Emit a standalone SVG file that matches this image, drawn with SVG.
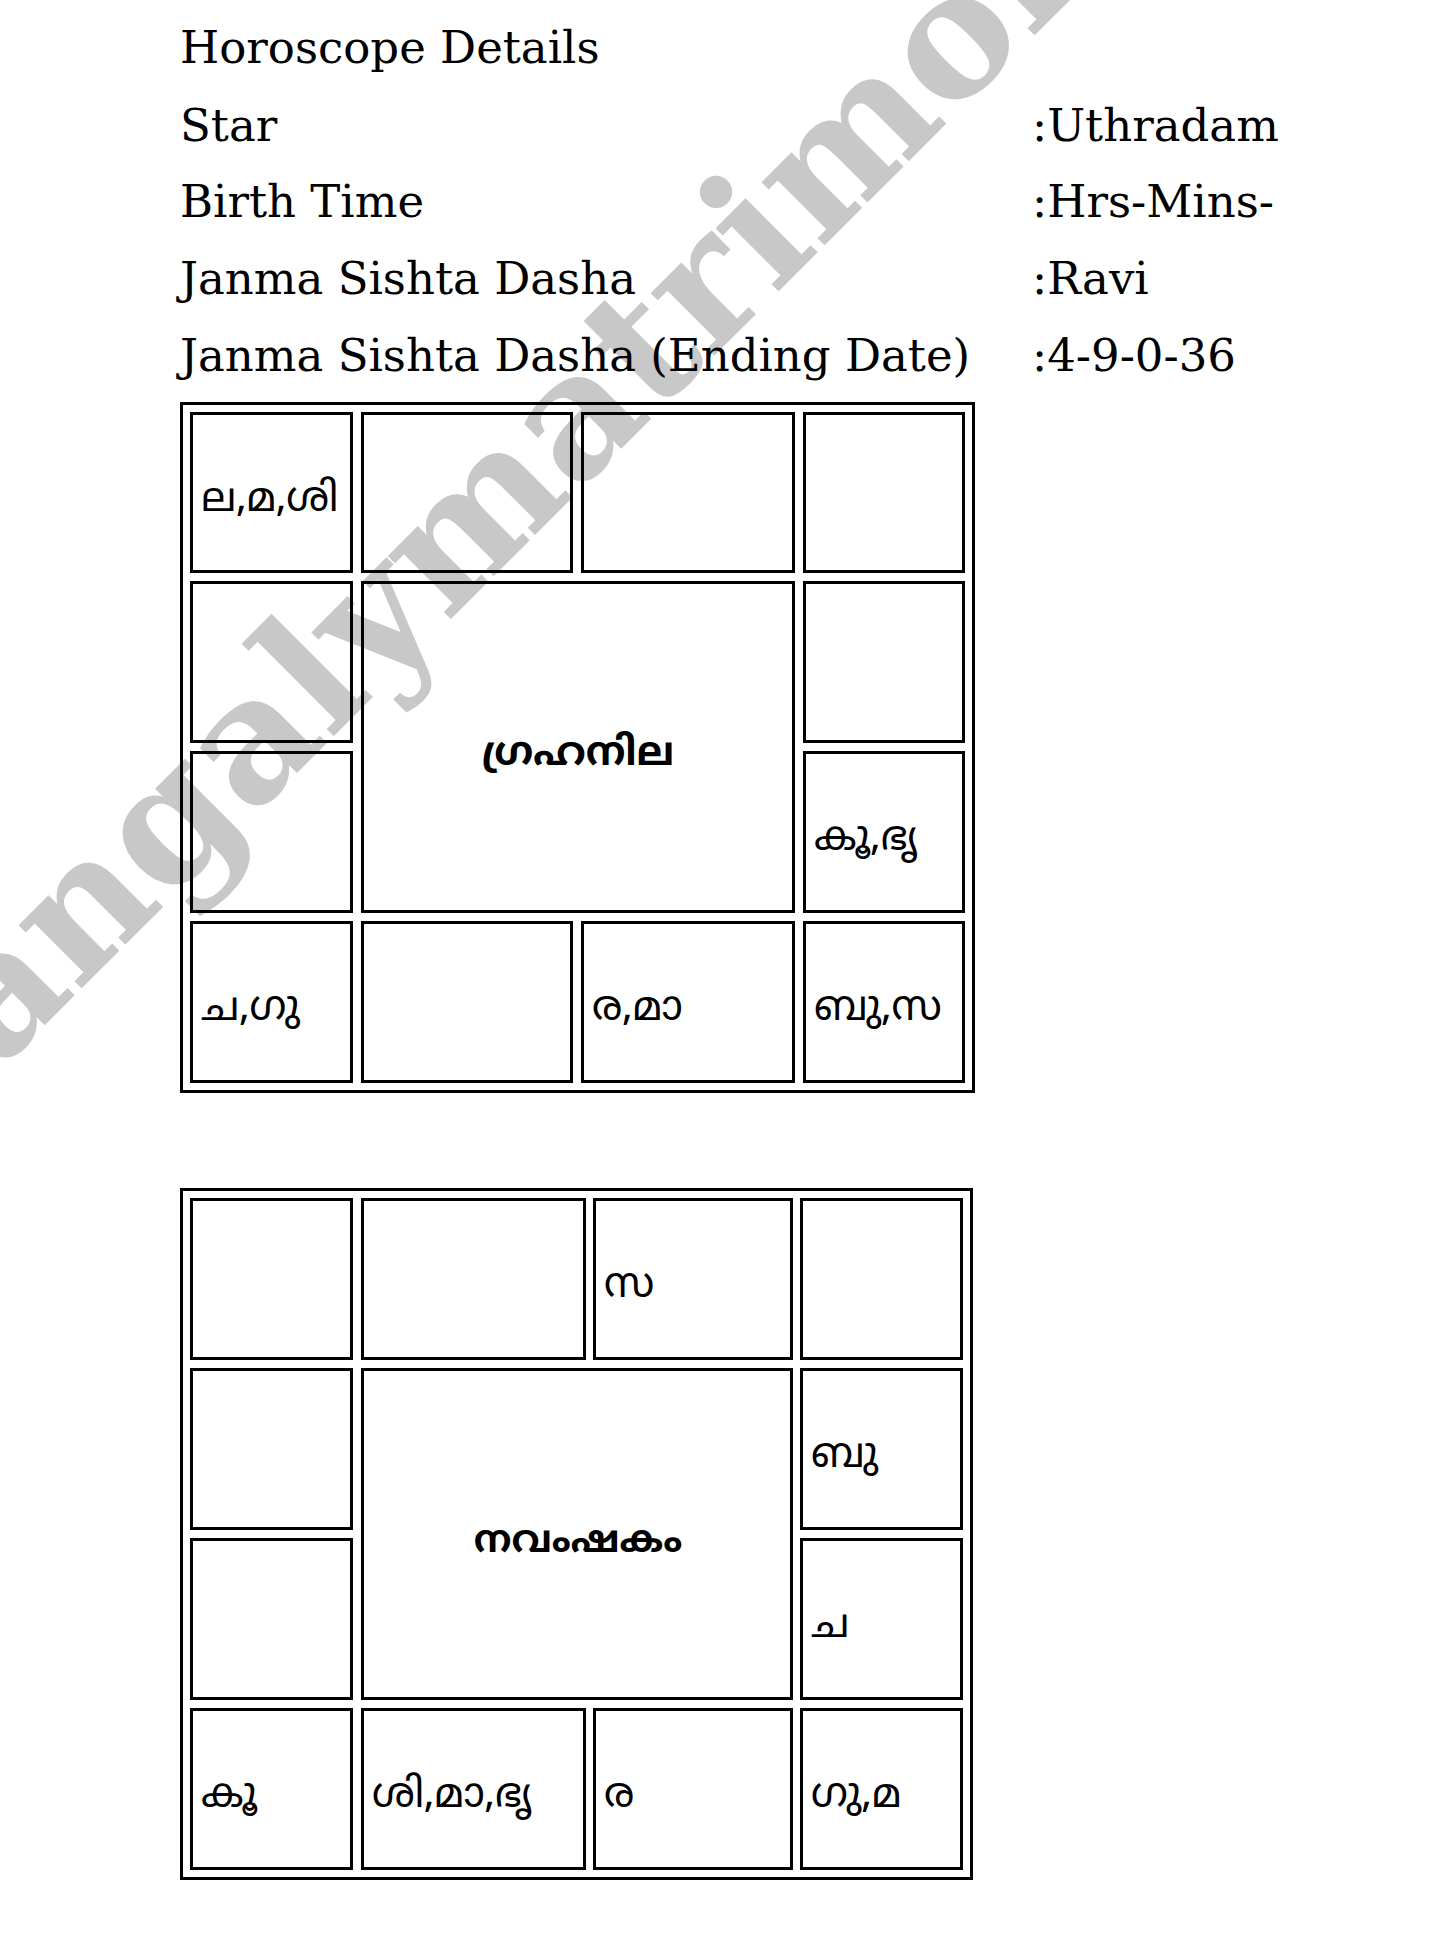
<svg xmlns="http://www.w3.org/2000/svg" width="1440" height="1950" viewBox="0 0 1440 1950">
<style>
.hd{font-family:"DejaVu Serif","Liberation Serif",serif;font-size:45px;fill:#000}
.wm{font-family:"DejaVu Serif","Liberation Serif",serif;font-weight:bold;font-size:172px;fill:#c8c8c8}
.outer{fill:none;stroke:#000;stroke-width:3}
.cell{fill:none;stroke:#000;stroke-width:3}
.ml{font-family:"Noto Sans Malayalam","Noto Sans",sans-serif;font-size:41px;fill:#000}
.mlb{font-family:"Noto Sans Malayalam","Noto Sans",sans-serif;font-size:40px;font-weight:bold;fill:#000;text-anchor:middle}
</style>
<rect x="0" y="0" width="1440" height="1950" fill="#fff"/>
<g id="watermark">
<text class="wm" transform="translate(-130,1200) rotate(-45)">mangalymatrimony</text>
</g>
<g id="header">
<text class="hd" x="180" y="63">Horoscope Details</text>
<text class="hd" x="180" y="141">Star</text>
<text class="hd" x="1032" y="141">:Uthradam</text>
<text class="hd" x="180" y="217">Birth Time</text>
<text class="hd" x="1032" y="217">:Hrs-Mins-</text>
<text class="hd" x="180" y="294">Janma Sishta Dasha</text>
<text class="hd" x="1032" y="294">:Ravi</text>
<text class="hd" x="180" y="371">Janma Sishta Dasha (Ending Date)</text>
<text class="hd" x="1032" y="371">:4-9-0-36</text>
</g>
<g id="rasi-chart">
<rect class="outer" x="181.5" y="403.5" width="792" height="688"/>
<g id="rasi-r1c1"><rect class="cell" x="191.5" y="413.5" width="160" height="158"/><text class="ml" x="201" y="511">ല,മ,ശി</text></g>
<g id="rasi-r1c2"><rect class="cell" x="362.5" y="413.5" width="209" height="158"/></g>
<g id="rasi-r1c3"><rect class="cell" x="582.5" y="413.5" width="211" height="158"/></g>
<g id="rasi-r1c4"><rect class="cell" x="804.5" y="413.5" width="159" height="158"/></g>
<g id="rasi-r2c1"><rect class="cell" x="191.5" y="582.5" width="160" height="159"/></g>
<g id="rasi-center"><rect class="cell" x="362.5" y="582.5" width="431" height="329"/><text class="mlb" x="578" y="765">ഗ്രഹനില</text></g>
<g id="rasi-r2c4"><rect class="cell" x="804.5" y="582.5" width="159" height="159"/></g>
<g id="rasi-r3c1"><rect class="cell" x="191.5" y="752.5" width="160" height="159"/></g>
<g id="rasi-r3c4"><rect class="cell" x="804.5" y="752.5" width="159" height="159"/><text class="ml" x="814" y="850">കൂ,ഭൃ</text></g>
<g id="rasi-r4c1"><rect class="cell" x="191.5" y="922.5" width="160" height="159"/><text class="ml" x="201" y="1020">ച,ഗു</text></g>
<g id="rasi-r4c2"><rect class="cell" x="362.5" y="922.5" width="209" height="159"/></g>
<g id="rasi-r4c3"><rect class="cell" x="582.5" y="922.5" width="211" height="159"/><text class="ml" x="592" y="1020">ര,മാ</text></g>
<g id="rasi-r4c4"><rect class="cell" x="804.5" y="922.5" width="159" height="159"/><text class="ml" x="814" y="1020">ബു,സ</text></g>
</g>
<g id="navamsa-chart">
<rect class="outer" x="181.5" y="1189.5" width="790" height="689"/>
<g id="nav-r1c1"><rect class="cell" x="191.5" y="1199.5" width="160" height="159"/></g>
<g id="nav-r1c2"><rect class="cell" x="362.5" y="1199.5" width="222" height="159"/></g>
<g id="nav-r1c3"><rect class="cell" x="594.5" y="1199.5" width="197" height="159"/><text class="ml" x="604" y="1297">സ</text></g>
<g id="nav-r1c4"><rect class="cell" x="801.5" y="1199.5" width="160" height="159"/></g>
<g id="nav-r2c1"><rect class="cell" x="191.5" y="1369.5" width="160" height="159"/></g>
<g id="nav-center"><rect class="cell" x="362.5" y="1369.5" width="429" height="329"/><text class="mlb" x="578" y="1552" style="font-size:38px">നവംഷകം</text></g>
<g id="nav-r2c4"><rect class="cell" x="801.5" y="1369.5" width="160" height="159"/><text class="ml" x="811" y="1467">ബു</text></g>
<g id="nav-r3c1"><rect class="cell" x="191.5" y="1539.5" width="160" height="159"/></g>
<g id="nav-r3c4"><rect class="cell" x="801.5" y="1539.5" width="160" height="159"/><text class="ml" x="811" y="1637">ച</text></g>
<g id="nav-r4c1"><rect class="cell" x="191.5" y="1709.5" width="160" height="159"/><text class="ml" x="201" y="1807">കൂ</text></g>
<g id="nav-r4c2"><rect class="cell" x="362.5" y="1709.5" width="222" height="159"/><text class="ml" x="372" y="1807">ശി,മാ,ഭൃ</text></g>
<g id="nav-r4c3"><rect class="cell" x="594.5" y="1709.5" width="197" height="159"/><text class="ml" x="604" y="1807">ര</text></g>
<g id="nav-r4c4"><rect class="cell" x="801.5" y="1709.5" width="160" height="159"/><text class="ml" x="811" y="1807">ഗു,മ</text></g>
</g>
<g id="connectors"/>
</svg>
